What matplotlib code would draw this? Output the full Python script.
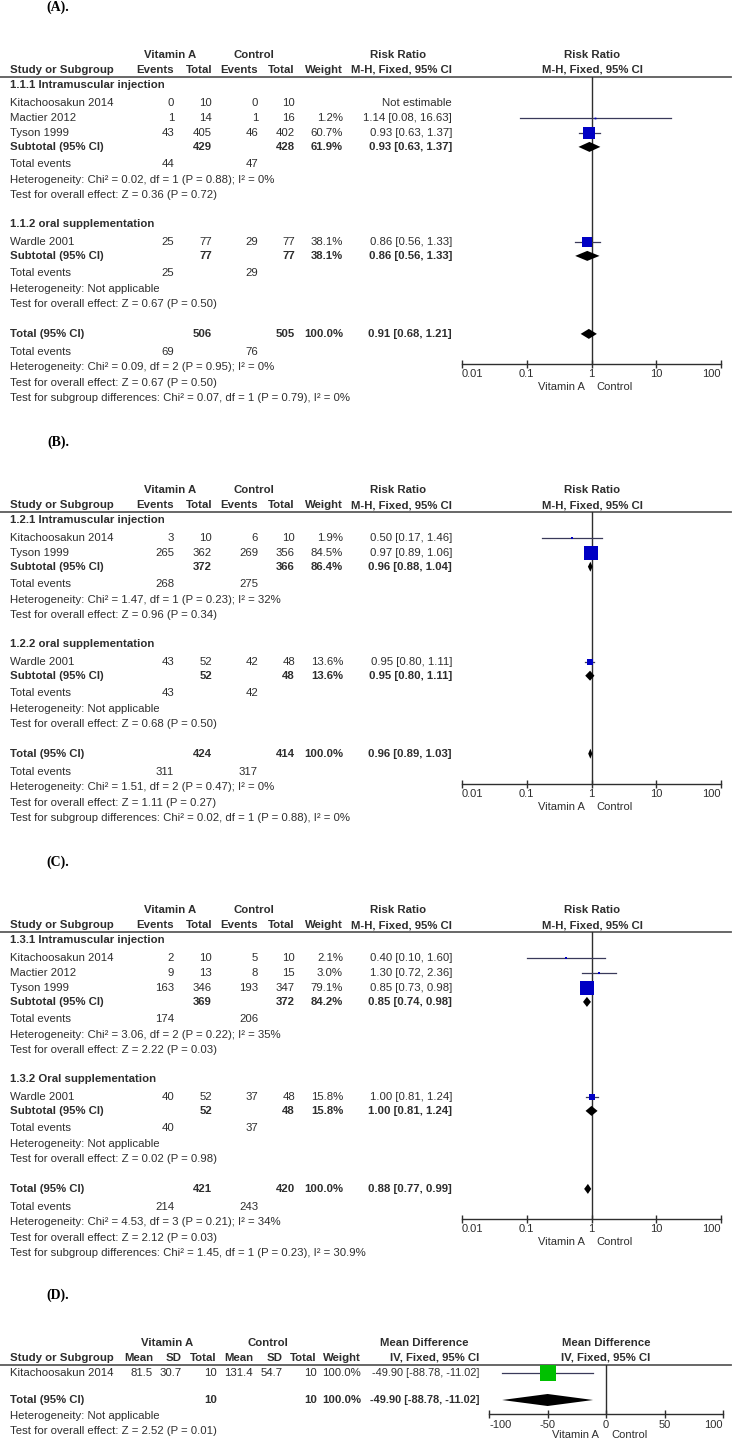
import matplotlib
matplotlib.use("Agg")
import matplotlib.pyplot as plt
from matplotlib.ticker import NullLocator
from matplotlib.transforms import offset_copy

W, H = 732, 1440
plt.rcParams['font.family'] = ['Liberation Sans', 'DejaVu Sans']

INK = '#2e2e2e'
RULE = '#5c5c5c'
BLUE = '#0000c4'
GREEN = '#00c000'
CI_COL = '#3a3a5a'
FS = 8.2

# ---------- (A) ----------
A_groups = ["1.1.1 Intramuscular injection", "1.1.2 oral supplementation"]
A_study_group = [0, 0, 0, 1]
A_studies = ["Kitachoosakun 2014", "Mactier 2012", "Tyson 1999", "Wardle 2001"]
A_va_events = [0, 1, 43, 25]
A_va_total = [10, 14, 405, 77]
A_ct_events = [0, 1, 46, 29]
A_ct_total = [10, 16, 402, 77]
A_weight = [None, 1.2, 60.7, 38.1]
A_rr = [None, 1.14, 0.93, 0.86]
A_lo = [None, 0.08, 0.63, 0.56]
A_hi = [None, 16.63, 1.37, 1.33]
A_sub_va_total = [429, 77]
A_sub_ct_total = [428, 77]
A_sub_weight = [61.9, 38.1]
A_sub_rr = [0.93, 0.86]
A_sub_lo = [0.63, 0.56]
A_sub_hi = [1.37, 1.33]
A_sub_va_events = [44, 25]
A_sub_ct_events = [47, 29]
A_sub_het = ["Chi² = 0.02, df = 1 (P = 0.88); I² = 0%", "Not applicable"]
A_sub_z = ["Z = 0.36 (P = 0.72)", "Z = 0.67 (P = 0.50)"]
A_tot = [506, 505, 100.0, 0.91, 0.68, 1.21]
A_tot_events = [69, 76]
A_tot_het = "Chi² = 0.09, df = 2 (P = 0.95); I² = 0%"
A_tot_z = "Z = 0.67 (P = 0.50)"
A_subgroup_test = "Chi² = 0.07, df = 1 (P = 0.79), I² = 0%"

# ---------- (B) ----------
B_groups = ["1.2.1 Intramuscular injection", "1.2.2 oral supplementation"]
B_study_group = [0, 0, 1]
B_studies = ["Kitachoosakun 2014", "Tyson 1999", "Wardle 2001"]
B_va_events = [3, 265, 43]
B_va_total = [10, 362, 52]
B_ct_events = [6, 269, 42]
B_ct_total = [10, 356, 48]
B_weight = [1.9, 84.5, 13.6]
B_rr = [0.50, 0.97, 0.95]
B_lo = [0.17, 0.89, 0.80]
B_hi = [1.46, 1.06, 1.11]
B_sub_va_total = [372, 52]
B_sub_ct_total = [366, 48]
B_sub_weight = [86.4, 13.6]
B_sub_rr = [0.96, 0.95]
B_sub_lo = [0.88, 0.80]
B_sub_hi = [1.04, 1.11]
B_sub_va_events = [268, 43]
B_sub_ct_events = [275, 42]
B_sub_het = ["Chi² = 1.47, df = 1 (P = 0.23); I² = 32%", "Not applicable"]
B_sub_z = ["Z = 0.96 (P = 0.34)", "Z = 0.68 (P = 0.50)"]
B_tot = [424, 414, 100.0, 0.96, 0.89, 1.03]
B_tot_events = [311, 317]
B_tot_het = "Chi² = 1.51, df = 2 (P = 0.47); I² = 0%"
B_tot_z = "Z = 1.11 (P = 0.27)"
B_subgroup_test = "Chi² = 0.02, df = 1 (P = 0.88), I² = 0%"

# ---------- (C) ----------
C_groups = ["1.3.1 Intramuscular injection", "1.3.2 Oral supplementation"]
C_study_group = [0, 0, 0, 1]
C_studies = ["Kitachoosakun 2014", "Mactier 2012", "Tyson 1999", "Wardle 2001"]
C_va_events = [2, 9, 163, 40]
C_va_total = [10, 13, 346, 52]
C_ct_events = [5, 8, 193, 37]
C_ct_total = [10, 15, 347, 48]
C_weight = [2.1, 3.0, 79.1, 15.8]
C_rr = [0.40, 1.30, 0.85, 1.00]
C_lo = [0.10, 0.72, 0.73, 0.81]
C_hi = [1.60, 2.36, 0.98, 1.24]
C_sub_va_total = [369, 52]
C_sub_ct_total = [372, 48]
C_sub_weight = [84.2, 15.8]
C_sub_rr = [0.85, 1.00]
C_sub_lo = [0.74, 0.81]
C_sub_hi = [0.98, 1.24]
C_sub_va_events = [174, 40]
C_sub_ct_events = [206, 37]
C_sub_het = ["Chi² = 3.06, df = 2 (P = 0.22); I² = 35%", "Not applicable"]
C_sub_z = ["Z = 2.22 (P = 0.03)", "Z = 0.02 (P = 0.98)"]
C_tot = [421, 420, 100.0, 0.88, 0.77, 0.99]
C_tot_events = [214, 243]
C_tot_het = "Chi² = 4.53, df = 3 (P = 0.21); I² = 34%"
C_tot_z = "Z = 2.12 (P = 0.03)"
C_subgroup_test = "Chi² = 1.45, df = 1 (P = 0.23), I² = 30.9%"

# ---------- (D) ----------
D_studies = ["Kitachoosakun 2014"]
D_va_mean = [81.5]
D_va_sd = [30.7]
D_va_total = [10]
D_ct_mean = [131.4]
D_ct_sd = [54.7]
D_ct_total = [10]
D_weight = [100.0]
D_md = [-49.90]
D_lo = [-88.78]
D_hi = [-11.02]
D_tot = [10, 10, 100.0, -49.90, -88.78, -11.02]
D_tot_het = "Not applicable"
D_tot_z = "Z = 2.52 (P = 0.01)"

rr_ticks = [0.01, 0.1, 1, 10, 100]
rr_ticklabels = ["0.01", "0.1", "1", "10", "100"]
md_ticks = [-100, -50, 0, 50, 100]
md_ticklabels = ["-100", "-50", "0", "50", "100"]

fig = plt.figure(figsize=(W / 100, H / 100), dpi=100)
base = fig.add_axes([0, 0, 1, 1])
base.set_xlim(0, W)
base.set_ylim(H, 0)
base.axis('off')


def put(x, y, s, ha='left', bold=False, size=FS, color=INK, **kw):
    base.text(x, y, s, ha=ha, va='center', fontsize=size,
              fontweight='bold' if bold else 'normal', color=color, **kw)


def panel_label(y, s):
    put(58, y, s, ha='center', bold=True, size=10, color='black',
        family=['Liberation Serif', 'DejaVu Serif'])


def plot_axes(x0, x1, y0, y1):
    ax = fig.add_axes([x0 / W, 1 - y1 / H, (x1 - x0) / W, (y1 - y0) / H])
    ax.set_ylim(y1, y0)
    ax.patch.set_alpha(0)
    for side in ['top', 'left', 'right']:
        ax.spines[side].set_visible(False)
    ax.spines['bottom'].set_color(INK)
    ax.spines['bottom'].set_linewidth(1)
    ax.tick_params(axis='y', left=False, labelleft=False)
    ax.tick_params(axis='x', direction='inout', length=6, width=1, color=INK,
                   pad=1, labelsize=8, labelcolor=INK)
    return ax


def set_ticks(ax, ticks, labels):
    ax.set_xticks(ticks)
    tl = ax.set_xticklabels(labels)
    # end labels sit inside the axis, as in RevMan
    tl[0].set_horizontalalignment('left')
    tl[-1].set_horizontalalignment('right')


def side_labels(ax, x_mid, y):
    left = offset_copy(ax.transData, fig=fig, x=-7, y=0, units='dots')
    right = offset_copy(ax.transData, fig=fig, x=5, y=0, units='dots')
    ax.text(x_mid, y, "Vitamin A", ha='right', va='center', fontsize=8,
            color=INK, transform=left)
    ax.text(x_mid, y, "Control", ha='left', va='center', fontsize=8,
            color=INK, transform=right)


def ci_txt(e, l, h):
    return f"{e:.2f} [{l:.2f}, {h:.2f}]"


def rr_panel(line_y, label, groups, study_group, studies, ve, vt, ce, ct, wt,
             rr, lo, hi, s_vt, s_ct, s_wt, s_rr, s_lo, s_hi, s_ve, s_ce,
             s_het, s_z, tot, tot_ev, tot_het, tot_z, sub_test):
    panel_label(line_y - 70, label)
    r1, r2 = line_y - 22, line_y - 7
    put(170, r1, "Vitamin A", 'center', True)
    put(254, r1, "Control", 'center', True)
    put(398, r1, "Risk Ratio", 'center', True)
    put(592, r1, "Risk Ratio", 'center', True)
    put(10, r2, "Study or Subgroup", bold=True)
    for x, s in [(174, "Events"), (212, "Total"), (258, "Events"),
                 (295, "Total"), (343, "Weight"), (452, "M-H, Fixed, 95% CI")]:
        put(x, r2, s, 'right', True)
    put(592, r2, "M-H, Fixed, 95% CI", 'center', True)
    base.plot([0, 731], [line_y, line_y], color=RULE, lw=1.3)

    squares, diamonds = [], []
    y = line_y + 8
    for g, gname in enumerate(groups):
        put(10, y, gname, bold=True)
        y += 17.75
        idx = [i for i in range(len(studies)) if study_group[i] == g]
        for k, i in enumerate(idx):
            if k:
                y += 15.2
            put(10, y, studies[i])
            put(174, y, str(ve[i]), 'right')
            put(212, y, str(vt[i]), 'right')
            put(258, y, str(ce[i]), 'right')
            put(295, y, str(ct[i]), 'right')
            if rr[i] is None:
                put(452, y, "Not estimable", 'right')
            else:
                put(343, y, f"{wt[i]:.1f}%", 'right')
                put(452, y, ci_txt(rr[i], lo[i], hi[i]), 'right')
                squares.append((y, rr[i], lo[i], hi[i], wt[i]))
        y += 13.75
        put(10, y, "Subtotal (95% CI)", bold=True)
        put(212, y, str(s_vt[g]), 'right', True)
        put(295, y, str(s_ct[g]), 'right', True)
        put(343, y, f"{s_wt[g]:.1f}%", 'right', True)
        put(452, y, ci_txt(s_rr[g], s_lo[g], s_hi[g]), 'right', True)
        diamonds.append((y, s_rr[g], s_lo[g], s_hi[g]))
        y += 17.5
        put(10, y, "Total events")
        put(174, y, str(s_ve[g]), 'right')
        put(258, y, str(s_ce[g]), 'right')
        y += 15.5
        put(10, y, "Heterogeneity: " + s_het[g])
        y += 15.5
        put(10, y, "Test for overall effect: " + s_z[g])
        y += 29
    y += 0.5
    total_y = y
    put(10, y, "Total (95% CI)", bold=True)
    put(212, y, str(tot[0]), 'right', True)
    put(295, y, str(tot[1]), 'right', True)
    put(343, y, f"{tot[2]:.1f}%", 'right', True)
    put(452, y, ci_txt(tot[3], tot[4], tot[5]), 'right', True)
    diamonds.append((y, tot[3], tot[4], tot[5]))
    y += 18
    put(10, y, "Total events")
    put(174, y, str(tot_ev[0]), 'right')
    put(258, y, str(tot_ev[1]), 'right')
    y += 15.5
    put(10, y, "Heterogeneity: " + tot_het)
    y += 15.5
    put(10, y, "Test for overall effect: " + tot_z)
    y += 15
    put(10, y, "Test for subgroup differences: " + sub_test)

    axis_y = total_y + 30
    ax = plot_axes(462, 721, line_y, axis_y)
    ax.set_xscale('log')
    ax.set_xlim(0.01, 100)
    ax.xaxis.set_minor_locator(NullLocator())
    set_ticks(ax, rr_ticks, rr_ticklabels)
    ax.axvline(1, color=INK, lw=1, zorder=1)
    for (yy, e, l, h, w) in squares:
        ax.plot([l, h], [yy, yy], color=CI_COL, lw=0.9, zorder=2, clip_on=False)
        ax.plot(e, yy, marker='s', ms=1.62 * w ** 0.5 * 0.72, color=BLUE,
                mew=0, zorder=3, clip_on=False)
    for (yy, e, l, h) in diamonds:
        ax.fill([l, e, h, e], [yy, yy - 5, yy, yy + 5], color='black', lw=0,
                zorder=3)
    side_labels(ax, 1, axis_y + 23)


rr_panel(77, "(A).", A_groups, A_study_group, A_studies, A_va_events, A_va_total,
         A_ct_events, A_ct_total, A_weight, A_rr, A_lo, A_hi, A_sub_va_total,
         A_sub_ct_total, A_sub_weight, A_sub_rr, A_sub_lo, A_sub_hi,
         A_sub_va_events, A_sub_ct_events, A_sub_het, A_sub_z, A_tot,
         A_tot_events, A_tot_het, A_tot_z, A_subgroup_test)
rr_panel(512, "(B).", B_groups, B_study_group, B_studies, B_va_events, B_va_total,
         B_ct_events, B_ct_total, B_weight, B_rr, B_lo, B_hi, B_sub_va_total,
         B_sub_ct_total, B_sub_weight, B_sub_rr, B_sub_lo, B_sub_hi,
         B_sub_va_events, B_sub_ct_events, B_sub_het, B_sub_z, B_tot,
         B_tot_events, B_tot_het, B_tot_z, B_subgroup_test)
rr_panel(932, "(C).", C_groups, C_study_group, C_studies, C_va_events, C_va_total,
         C_ct_events, C_ct_total, C_weight, C_rr, C_lo, C_hi, C_sub_va_total,
         C_sub_ct_total, C_sub_weight, C_sub_rr, C_sub_lo, C_sub_hi,
         C_sub_va_events, C_sub_ct_events, C_sub_het, C_sub_z, C_tot,
         C_tot_events, C_tot_het, C_tot_z, C_subgroup_test)

# ---------- panel D (mean difference) ----------
line_y = 1365
panel_label(line_y - 70, "(D).")
r1, r2 = line_y - 22, line_y - 7
put(167, r1, "Vitamin A", 'center', True)
put(268, r1, "Control", 'center', True)
put(424, r1, "Mean Difference", 'center', True)
put(606, r1, "Mean Difference", 'center', True)
put(10, r2, "Study or Subgroup", bold=True)
for x, s in [(153, "Mean"), (182, "SD"), (217, "Total"), (253, "Mean"),
             (283, "SD"), (317, "Total"), (361, "Weight"),
             (479, "IV, Fixed, 95% CI")]:
    put(x, r2, s, 'right', True)
put(606, r2, "IV, Fixed, 95% CI", 'center', True)
base.plot([0, 731], [line_y, line_y], color=RULE, lw=1.3)

y = line_y + 8
for i, name in enumerate(D_studies):
    put(10, y, name)
    put(153, y, f"{D_va_mean[i]:.1f}", 'right')
    put(182, y, f"{D_va_sd[i]:.1f}", 'right')
    put(217, y, str(D_va_total[i]), 'right')
    put(253, y, f"{D_ct_mean[i]:.1f}", 'right')
    put(283, y, f"{D_ct_sd[i]:.1f}", 'right')
    put(317, y, str(D_ct_total[i]), 'right')
    put(361, y, f"{D_weight[i]:.1f}%", 'right')
    put(479, y, ci_txt(D_md[i], D_lo[i], D_hi[i]), 'right', size=7.9)
study_y = y
y += 27
total_y = y
put(10, y, "Total (95% CI)", bold=True)
put(217, y, str(D_tot[0]), 'right', True)
put(317, y, str(D_tot[1]), 'right', True)
put(361, y, f"{D_tot[2]:.1f}%", 'right', True)
put(479, y, ci_txt(D_tot[3], D_tot[4], D_tot[5]), 'right', True, size=7.9)
y += 16
put(10, y, "Heterogeneity: " + D_tot_het)
y += 14.5
put(10, y, "Test for overall effect: " + D_tot_z)

axis_y = total_y + 14
axd = plot_axes(489, 723, line_y, axis_y)
axd.set_xlim(-100, 100)
set_ticks(axd, md_ticks, md_ticklabels)
axd.axvline(0, color=INK, lw=1, zorder=1)
for i in range(len(D_studies)):
    axd.plot([D_lo[i], D_hi[i]], [study_y, study_y], color=CI_COL, lw=0.9, zorder=2)
    axd.plot(D_md[i], study_y, marker='s', ms=1.58 * D_weight[i] ** 0.5 * 0.72,
             color=GREEN, mew=0, zorder=3, clip_on=False)
axd.fill([D_tot[4], D_tot[3], D_tot[5], D_tot[3]],
         [total_y, total_y - 6, total_y, total_y + 6], color='black', lw=0, zorder=3)
side_labels(axd, 0, axis_y + 21)

fig.savefig("out.png", dpi=100)
